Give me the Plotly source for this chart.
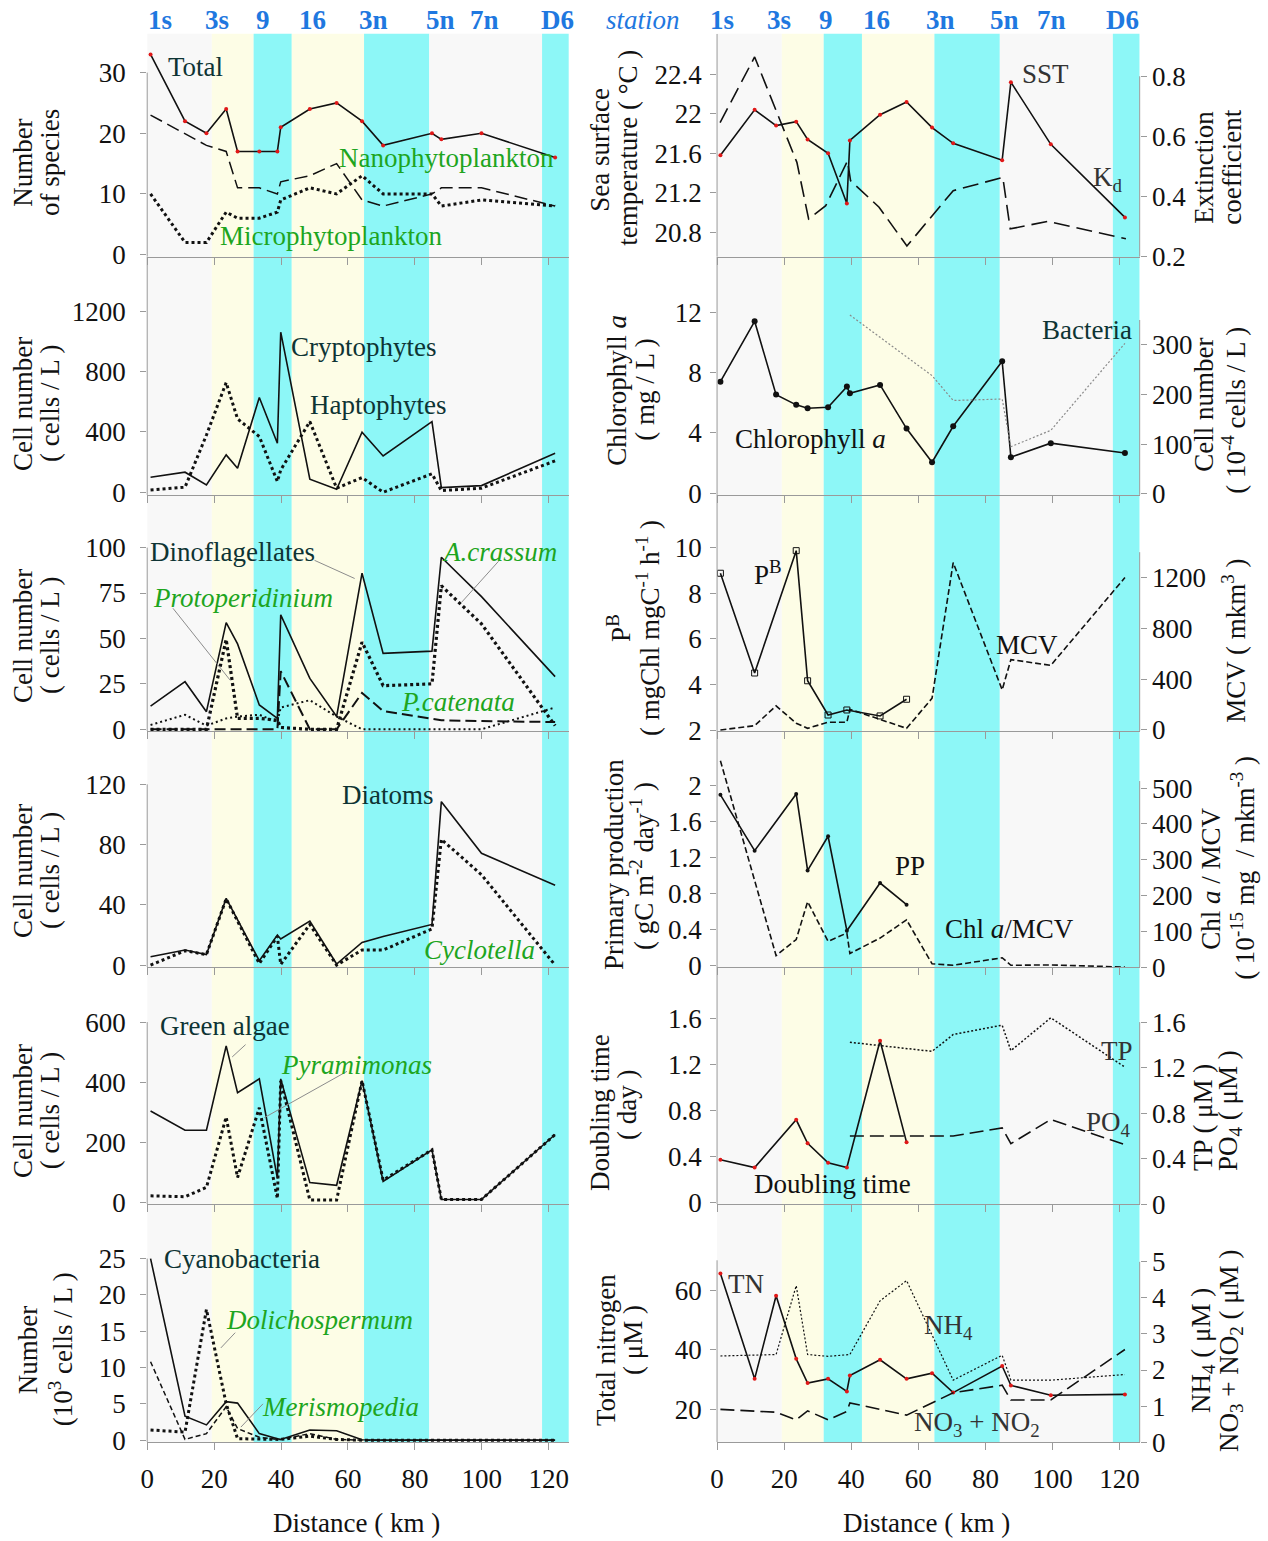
import plotly.graph_objects as go

# ---------------- data ----------------
stations = ["1s", "3s", "9", "16", "3n", "5n", "7n", "D6"]
station_km_left = [3.9, 20.8, 34.5, 49.4, 67.7, 87.7, 100.8, 122.5]
station_km_right = [1.5, 18.5, 32.4, 47.5, 66.5, 85.6, 99.7, 120.8]

zone_start = [0.0, 19.3, 31.8, 43.2, 64.8, 84.3, 118.0]
zone_end = [19.3, 31.8, 43.2, 64.8, 84.3, 118.0, 126.0]
zone_kind = ["offshore", "mixing", "front", "mixing", "front", "offshore", "front"]

distance_ticks = [0, 20, 40, 60, 80, 100, 120]

km_left = [1.0, 11.3, 17.7, 23.6, 27.0, 33.5, 38.9, 39.9, 48.6, 56.6, 64.2, 70.5, 85.1, 87.9, 99.9, 121.9]
km_right = [1.0, 11.2, 17.6, 23.6, 27.0, 33.1, 38.7, 39.6, 48.6, 56.5, 64.1, 70.4, 85.0, 87.6, 99.5, 121.6]

total_species = [33, 22, 20, 24, 17, 17, 17, 21, 24, 25, 22, 18, 20, 19, 20, 16]
nano_species = [23, 20, 18, 17, 11, 11, 10, 12, 13, 15, 9, 8, 10, 11, 11, 8]
micro_species = [10, 2, 2, 7, 6, 6, 7, 9, 11, 10, 13, 10, 10, 8, 9, 8]

cryptophytes = [100, 133, 49, 248, 159, 629, 325, 1063, 86, 20, 398, 241, 469, 31, 44, 259]
haptophytes = [15, 33, 380, 728, 487, 370, 71, 148, 469, 27, 97, 0, 122, 11, 27, 208]

dinoflagellates = [12.8, 26.2, 9.7, 58.7, 47, 13.4, 6, 63, 28, 7, 85.9, 41.8, 43, 94.7, 73, 29]
a_crassum = [0, 0, 0, 49.5, 6, 6, 5, 1, 0, 0, 48, 24, 25, 79, 58, 2]
protoperidinium = [2.4, 8, 2, 6, 7, 8, 4, 12, 16, 7, 0, 0, 0, 0, 0, 12]
p_catenata = [0, 0, 0, 0, 0, 0, 0, 32, 0, 0, 20, 10, 6, 5, 4.5, 4]

diatoms = [5.5, 10, 7, 44.3, None, 2.9, 20, 17.3, 29.2, 0.7, 15, 19, 27, 108.5, 74.2, 53]
cyclotella = [0, 9.5, 7, 44, None, 1, 19, 0.5, 27, 0, 10, 10, 24, 83.5, 60, 0]

green_algae = [304, 240, 240, 521, 365, 411, 80, 411, 66, 57, 405, 70, 175, 10, 10, 226]
pyramimonas = [22, 19, 50, 284, 83, 315, 13, 405, 8, 8, 405, 74, 175, 10, 10, 226]

cyanobacteria = [25, 3.3, 2.1, 5.3, 5.1, 0.9, 0.2, 0.1, 1.4, 1.3, 0.05, 0, 0, 0, 0, 0]
dolichospermum = [1.4, 1.1, 18, 5, 0.2, 0.1, 0.1, 0.1, 0.55, 0.1, 0, 0, 0, 0, 0, 0]
merismopedia = [10.8, 0.1, 0.9, 4.6, 1.6, 0.4, 0.1, 0.1, 0.9, 0.1, 0, 0, 0, 0, 0, 0]

sst = [21.58, 22.04, 21.88, 21.92, 21.74, 21.6, 21.09, 21.73, 21.99, 22.12, 21.86, 21.70, 21.53, 22.32, 21.69, 20.95]
kd_km = [0.9, 11.2, 23.8, 27.3, 32.4, 38.9, 39.8, 48.3, 56.6, 70.4, 85.2, 87.4, 98.7, 121.9]
kd = [0.646, 0.864, 0.514, 0.326, 0.37, 0.519, 0.453, 0.365, 0.236, 0.42, 0.464, 0.293, 0.318, 0.26]

chl_a = [7.4, 11.4, 6.54, 5.86, 5.64, 5.7, 7.07, 6.63, 7.18, 4.29, 2.06, 4.44, 8.75, 2.39, 3.32, 2.67]
bacteria = [None, None, None, None, None, None, None, 360, None, None, 238, 188, 191, 95, 128, 303]

pb = [8.87, 4.5, None, 9.86, 4.16, 2.66, 2.88, None, 2.62, 3.35, None, None, None, None, None, None]
mcv = [0, 34, 190, 53, 13, 61, 61, 163, None, 13, 250, 1318, 316, 554, 509, 1200]

pp = [1.90, 1.28, None, 1.91, 1.06, 1.44, 0.39, None, 0.92, 0.68, None, None, None, None, None, None]
chl_mcv = [577, None, 32, 77, 183, 72, 95, 38, 81, 132, 9, 5, 26, 5, 6, 0]

doubling_time = [0.374, 0.307, None, 0.722, 0.518, 0.348, 0.307, None, 1.41, 0.526, None, None, None, None, None, None]
tp = [None, None, None, None, None, None, None, 1.423, None, None, 1.343, 1.491, 1.573, 1.349, 1.638, 1.204]
po4 = [None, None, None, None, None, None, None, 0.599, None, None, None, 0.599, 0.67, 0.531, 0.744, 0.522]

tn = [65.6, 30.3, 58.1, 37, 28.9, 30.3, 26.1, 31.4, 36.7, 30.3, 32.2, 25.7, 34.6, 28.1, 24.8, 25.1]
nh4 = [2.39, None, 2.43, 4.34, 2.43, 2.38, None, 2.43, 3.92, 4.48, None, 1.72, 2.41, 1.72, 1.72, 1.875]
no3_no2 = [0.91, None, 0.83, 0.62, 0.87, 0.62, 0.85, 1.09, None, 0.75, None, 1.37, 1.58, 1.17, 1.17, 2.57]

# ---------------- geometry / style ----------------
W, H = 1268, 1541
LX0, LX1 = 148, 569
RX0, RX1 = 717, 1139
ROWS = [(34, 257), (257, 495), (495, 731), (731, 967), (967, 1204), (1204, 1442)]
XMAX = 126
FONT = "Liberation Serif"
FS = 27
AXC = "#9a9a9a"
BLACK = "#111111"
DARK = "#0e3434"
GREEN = "#1ea51e"
RED = "#e01818"
BLUE = "#1f78e0"
ZONE_COLORS = {"offshore": "#f8f8f8", "mixing": "#fdfde6", "front": "#8df7f7"}


def px(p):
    # reference pixel -> paper fraction (with small empirical calibration)
    return ((p - 8) / 0.993) / W


def py(p):
    return 1 - (20 + (p - 20) / 0.99) / H


left_ranges = [(-0.38, 36.4), (-18, 1563), (-0.94, 129), (-1.3, 155.4), (-5.6, 783), (-0.28, 32.5)]
left_ticks = [[0, 10, 20, 30], [0, 400, 800, 1200], [0, 25, 50, 75, 100], [0, 40, 80, 120],
              [0, 200, 400, 600], [0, 5, 10, 15, 20, 25]]
left_linetop = [30, 1563, 100, 120, 600, 25]

right_ranges = [(20.55, 22.81), (-0.11, 15.67), (1.96, 12.3), (-0.014, 2.61), (-0.011, 2.05), (9.1, 88.8)]
right_ticks = [[20.8, 21.2, 21.6, 22, 22.4], [0, 4, 8, 12], [2, 4, 6, 8, 10], [0, 0.4, 0.8, 1.2, 1.6, 2],
               [0, 0.4, 0.8, 1.2, 1.6], [20, 40, 60]]
right_linetop = [22.81, 15.67, 12.3, 2.61, 2.05, 70]

sec_ranges = [(0.2, 0.941), (-2, 477), (-8, 1851), (0, 660), (0, 2.084), (0, 6.6)]
sec_ticks = [[0.2, 0.4, 0.6, 0.8], [0, 100, 200, 300], [0, 400, 800, 1200], [0, 100, 200, 300, 400, 500],
             [0, 0.4, 0.8, 1.2, 1.6], [0, 1, 2, 3, 4, 5]]
sec_linetop = [0.8, 350, 1400, 520, 1.6, 5]


def fmt(v):
    return str(int(v)) if float(v).is_integer() else str(v)


def xn(i):
    return "x" if i == 1 else f"x{i}"


def yn(i):
    return "y" if i == 1 else f"y{i}"


def key(prefix, i):
    return prefix + ("" if i == 1 else str(i))


fig = go.Figure()
layout = dict(width=W, height=H, margin=dict(l=0, r=0, t=0, b=0), paper_bgcolor="white",
              plot_bgcolor="rgba(0,0,0,0)", showlegend=False)
shapes = []
annotations = []
tickfont = dict(family=FONT, size=FS, color=BLACK)

for r, (top, bot) in enumerate(ROWS):
    ydom = [py(bot), py(top)]
    for c in range(2):
        pid = 2 * r + 1 + c
        x0, x1 = (LX0, LX1) if c == 0 else (RX0, RX1)
        layout[key("xaxis", pid)] = dict(
            domain=[px(x0), px(x1)], range=[0, XMAX], anchor=yn(pid), showline=True, linecolor=AXC,
            linewidth=1, ticks="outside", ticklen=7, tickcolor=AXC, tickvals=distance_ticks,
            ticktext=[fmt(t) for t in distance_ticks], showticklabels=(r == 5), tickfont=tickfont,
            ticklabelstandoff=5, showgrid=False, zeroline=False, fixedrange=True)
        rng = left_ranges[r] if c == 0 else right_ranges[r]
        tv = left_ticks[r] if c == 0 else right_ticks[r]
        ltop = left_linetop[r] if c == 0 else right_linetop[r]
        layout[key("yaxis", pid)] = dict(
            domain=ydom, range=list(rng), anchor=xn(pid), showline=False, ticks="outside", ticklen=6,
            tickcolor=AXC, tickvals=tv, ticktext=[fmt(t) for t in tv], tickfont=tickfont,
            ticklabelstandoff=(9 if c == 0 else 3), showgrid=False, zeroline=False, fixedrange=True)
        shapes.append(dict(type="line", xref=f"{xn(pid)} domain", yref=yn(pid), x0=0, x1=0,
                           y0=rng[0], y1=ltop, line=dict(color=AXC, width=1)))
    sid = 13 + r
    pid = 2 * r + 2
    layout[key("yaxis", sid)] = dict(
        domain=ydom, range=list(sec_ranges[r]), overlaying=yn(pid), side="right", anchor=xn(pid),
        showline=False, ticks="outside", ticklen=6, tickcolor=AXC, tickvals=sec_ticks[r],
        ticktext=[fmt(t) for t in sec_ticks[r]], tickfont=tickfont, ticklabelstandoff=0,
        showgrid=False, zeroline=False, fixedrange=True)
    shapes.append(dict(type="line", xref=f"{xn(pid)} domain", yref=yn(sid), x0=1, x1=1,
                       y0=sec_ranges[r][0], y1=sec_linetop[r], line=dict(color=AXC, width=1)))

# background zones
for xr in ("x", "x2"):
    for zs, ze, zk in zip(zone_start, zone_end, zone_kind):
        shapes.append(dict(type="rect", xref=xr, yref="paper", x0=zs, x1=ze,
                           y0=py(1442), y1=py(34), fillcolor=ZONE_COLORS[zk],
                           line=dict(width=0), layer="below"))


def add(x, y, pid, yid=None, color=BLACK, width=1.6, dash="solid", msize=0, mcolor=BLACK,
        msymbol="circle"):
    yid = pid if yid is None else yid
    fig.add_trace(go.Scatter(
        x=x, y=y, xaxis=xn(pid), yaxis=yn(yid), mode="lines+markers" if msize else "lines",
        line=dict(color=color, width=width, dash=dash), connectgaps=True, hoverinfo="skip",
        marker=dict(size=msize, color=mcolor, symbol=msymbol,
                    line=dict(width=1 if msymbol.endswith("open") else 0, color=mcolor))))


LDASH = "13px,6px"
add(km_left, nano_species, 1, dash=LDASH, width=1.5)
add(km_left, micro_species, 1, dash="3px,3px", width=3)
add(km_left, total_species, 1, msize=4, mcolor=RED)
add(km_left, haptophytes, 3, dash="3px,3px", width=3)
add(km_left, cryptophytes, 3)
add(km_left, p_catenata, 5, dash="11px,5px", width=2)
add(km_left, protoperidinium, 5, dash="2px,3px", width=2)
add(km_left, a_crassum, 5, dash="3px,3px", width=3.2)
add(km_left, dinoflagellates, 5)
add(km_left, cyclotella, 7, dash="3px,3px", width=3)
add(km_left, diatoms, 7)
add(km_left, pyramimonas, 9, dash="3px,3px", width=3)
add(km_left, green_algae, 9)
add(km_left, merismopedia, 11, dash="5px,3px", width=1.5)
add(km_left, dolichospermum, 11, dash="3px,3px", width=3)
add(km_left, cyanobacteria, 11)

add(kd_km, kd, 2, 13, dash="16px,7px", width=1.6)
add(km_right, sst, 2, msize=4, mcolor=RED)
add(km_right, bacteria, 4, 14, color="#8a8a8a", dash="2px,2px", width=1.2)
add(km_right, chl_a, 4, msize=6, mcolor=BLACK)
add(km_right, mcv, 6, 15, dash="6px,3px", width=1.6)
add(km_right, pb, 6, msize=6, mcolor=BLACK, msymbol="square-open")
add(km_right, chl_mcv, 8, 16, dash="6px,3px", width=1.6)
add(km_right, pp, 8, msize=4, mcolor=BLACK)
add(km_right, tp, 10, 17, dash="2px,2px", width=1.5)
add(km_right, po4, 10, 17, dash="14px,6px", width=1.6)
add(km_right, doubling_time, 10, msize=4, mcolor=RED)
add(km_right, nh4, 12, 18, dash="2px,2px", width=1.2)
add(km_right, no3_no2, 12, 18, dash="14px,6px", width=1.6)
add(km_right, tn, 12, msize=4, mcolor=RED)


def label(text, pid, x, y, color=DARK, yid=None):
    yid = pid if yid is None else yid
    annotations.append(dict(text=text, x=x, y=y, xref=xn(pid), yref=yn(yid), showarrow=False,
                            xanchor="center", yanchor="middle",
                            font=dict(family=FONT, size=FS, color=color)))


def leader(pid, xa, ya, xb, yb):
    shapes.append(dict(type="line", xref=xn(pid), yref=yn(pid), x0=xa, y0=ya, x1=xb, y1=yb,
                       line=dict(color="#8c8c8c", width=1)))


label("Total", 1, 14.5, 31)
label("Nanophytoplankton", 1, 89.4, 15.9, GREEN)
label("Microphytoplankton", 1, 55, 3, GREEN)
label("Cryptophytes", 3, 64.8, 967)
label("Haptophytes", 3, 69, 576)
label("Dinoflagellates", 5, 25.4, 97.8)
leader(5, 50, 93, 62, 83)
label("<i>A.crassum</i>", 5, 105.4, 97.8, GREEN)
leader(5, 105, 92.5, 94, 70)
label("<i>Protoperidinium</i>", 5, 28.5, 72, GREEN)
leader(5, 7.7, 66.6, 24.8, 27)
label("<i>P.catenata</i>", 5, 92.8, 15.2, GREEN)
label("Diatoms", 7, 72, 113)
label("<i>Cyclotella</i>", 7, 99.3, 10, GREEN)
label("Green algae", 9, 23.1, 588)
leader(9, 29.4, 525, 25.4, 484)
label("<i>Pyramimonas</i>", 9, 62.5, 458, GREEN)
leader(9, 59.7, 436, 35, 282)
label("Cyanobacteria", 11, 28.2, 24.9)
label("<i>Dolichospermum</i>", 11, 51.4, 16.6, GREEN)
leader(11, 26.3, 14.8, 22, 12.7)
label("<i>Merismopedia</i>", 11, 57.7, 4.6, GREEN)
leader(11, 34.6, 5, 28, 1.8)

label("SST", 2, 98, 22.4, "#333333")
label("K<sub>d</sub>", 2, 116.7, 21.34, "#333333")
label("Bacteria", 4, 110.3, 10.8)
label("Chlorophyll <i>a</i>", 4, 27.9, 3.6, BLACK)
label("P<sup>B</sup>", 6, 15.1, 8.9, BLACK)
label("MCV", 6, 92.3, 5.74, BLACK)
label("PP", 8, 57.5, 1.11, BLACK)
label("Chl <i>a</i>/MCV", 8, 87.1, 0.407, BLACK)
label("TP", 10, 119.3, 1.316, "#333333")
label("PO<sub>4</sub>", 10, 116.7, 0.687, "#333333")
label("Doubling time", 10, 34.4, 0.16, BLACK)
label("TN", 12, 8.6, 62, "#333333")
label("NH<sub>4</sub>", 12, 69.1, 47.6, "#333333")
label("NO<sub>3</sub> + NO<sub>2</sub>", 12, 77.5, 15.3, "#333333")

for name, kl, kr in zip(stations, station_km_left, station_km_right):
    for xr, k in (("x", kl), ("x2", kr)):
        annotations.append(dict(text=f"<b>{name}</b>", x=k, y=py(20), xref=xr, yref="paper",
                                showarrow=False, xanchor="center", yanchor="middle",
                                font=dict(family=FONT, size=FS, color=BLUE)))
annotations.append(dict(text="<i>station</i>", x=px(643), y=py(20), xref="paper", yref="paper",
                        showarrow=False, xanchor="center", yanchor="middle",
                        font=dict(family=FONT, size=FS, color=BLUE)))

titles = [
    ("Number", 24, 163), ("of species", 51, 163),
    ("Cell number", 24, 404), ("( cells / L )", 51, 404),
    ("Cell number", 24, 636), ("( cells / L )", 51, 636),
    ("Cell number", 24, 871), ("( cells / L )", 51, 871),
    ("Cell number", 24, 1111), ("( cells / L )", 51, 1111),
    ("Number", 29, 1350), ("(10<sup>3</sup> cells / L )", 62, 1349),
    ("Sea surface", 600, 150), ("temperature ( °C )", 628, 148),
    ("Chlorophyll <i>a</i>", 617, 390), ("( mg / L )", 645, 390),
    ("P<sup>B</sup>", 619, 628), ("( mgChl mgC<sup>-1</sup> h<sup>-1</sup> )", 648, 628),
    ("Primary production", 614, 864), ("( gC m<sup>-2</sup> day<sup>-1</sup> )", 642, 866),
    ("Doubling time", 600, 1112), ("( day )", 627, 1105),
    ("Total nitrogen", 606, 1350), ("( μM )", 633, 1340),
    ("Extinction", 1203, 167), ("coefficient", 1231, 167),
    ("Cell number", 1203, 405), ("( 10<sup>-4</sup> cells / L )", 1233, 410),
    ("MCV ( mkm<sup>3</sup> )", 1233, 641),
    ("Chl <i>a</i> / MCV", 1210, 879), ("( 10<sup>-15</sup> mg  / mkm<sup>-3</sup> )", 1242, 868),
    ("TP ( μM )", 1202, 1117), ("PO<sub>4</sub> ( μM )", 1229, 1110),
    ("NH<sub>4</sub> ( μM )", 1202, 1350), ("NO<sub>3</sub> + NO<sub>2</sub> ( μM )", 1230, 1351),
]
for t, tx, ty in titles:
    annotations.append(dict(text=t, x=px(tx), y=py(ty), xref="paper", yref="paper",
                            showarrow=False, textangle=-90, xanchor="center", yanchor="middle",
                            font=dict(family=FONT, size=FS, color=BLACK)))

for cx in (357, 926):
    annotations.append(dict(text="Distance ( km )", x=px(cx), y=py(1523), xref="paper",
                            yref="paper", showarrow=False, xanchor="center", yanchor="middle",
                            font=dict(family=FONT, size=FS, color=BLACK)))

layout["shapes"] = shapes
layout["annotations"] = annotations
fig.update_layout(**layout)
fig.write_html("out.html", config={"displayModeBar": False},
               post_script="document.body.style.margin='0';")
